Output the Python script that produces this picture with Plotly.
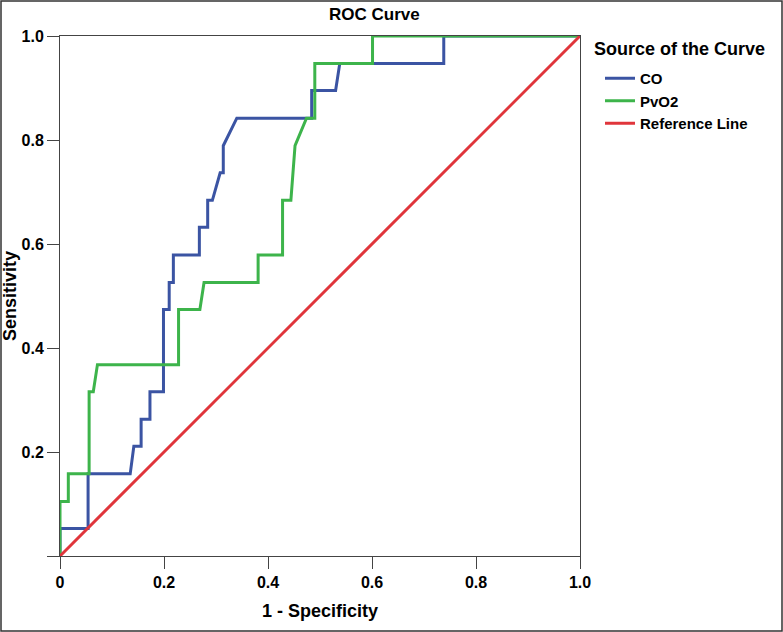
import plotly.graph_objects as go

# ---- data ----
co_fpr = [0, 0, 0.054, 0.054, 0.135, 0.142, 0.156, 0.156, 0.173, 0.173, 0.199, 0.199,
          0.210, 0.210, 0.218, 0.218, 0.268, 0.268, 0.284, 0.284, 0.293, 0.308, 0.314,
          0.314, 0.340, 0.484, 0.484, 0.530, 0.538, 0.738, 0.738, 1.0]
co_tpr = [0, 0.053, 0.053, 0.158, 0.158, 0.211, 0.211, 0.263, 0.263, 0.316, 0.316, 0.474,
          0.474, 0.526, 0.526, 0.579, 0.579, 0.632, 0.632, 0.684, 0.684, 0.737, 0.737,
          0.789, 0.842, 0.842, 0.895, 0.895, 0.947, 0.947, 1.0, 1.0]

pvo2_fpr = [0, 0, 0.016, 0.016, 0.056, 0.056, 0.064, 0.072, 0.228, 0.228, 0.269, 0.277,
            0.381, 0.381, 0.428, 0.428, 0.444, 0.448, 0.452, 0.474, 0.490, 0.490, 0.601,
            0.601, 1.0]
pvo2_tpr = [0, 0.105, 0.105, 0.158, 0.158, 0.316, 0.316, 0.368, 0.368, 0.474, 0.474, 0.526,
            0.526, 0.579, 0.579, 0.684, 0.684, 0.737, 0.789, 0.842, 0.842, 0.947, 0.947,
            1.0, 1.0]

ref_x = [0, 1]
ref_y = [0, 1]

tick_vals = [0, 0.2, 0.4, 0.6, 0.8, 1.0]
x_tick_text = ["0", "0.2", "0.4", "0.6", "0.8", "1.0"]
y_tick_text = ["", "0.2", "0.4", "0.6", "0.8", "1.0"]

series_names = ["CO", "PvO2", "Reference Line"]
colors = ["#3B54A3", "#3DB44B", "#E0353B"]

FONT = "Arial, Liberation Sans, sans-serif"

fig = go.Figure()
fig.add_trace(go.Scatter(x=co_fpr, y=co_tpr, mode="lines", name=series_names[0],
                         line=dict(color=colors[0], width=3)))
fig.add_trace(go.Scatter(x=pvo2_fpr, y=pvo2_tpr, mode="lines", name=series_names[1],
                         line=dict(color=colors[1], width=3)))
fig.add_trace(go.Scatter(x=ref_x, y=ref_y, mode="lines", name=series_names[2],
                         line=dict(color=colors[2], width=3)))

W, H = 783, 632
L, R, T, B = 60, 203, 36, 76
pw, ph = W - L - R, H - T - B


def px_x(p):
    return (p - L) / pw


def px_y(p):
    return (H - B - p) / ph


fig.update_layout(
    width=W, height=H,
    margin=dict(l=L, r=R, t=T, b=B, pad=0, autoexpand=False),
    paper_bgcolor="white", plot_bgcolor="white",
    font=dict(family=FONT, color="black"),
    showlegend=True,
    legend=dict(
        font=dict(size=15, family=FONT, weight="bold"),
        x=px_x(600), xanchor="left",
        y=px_y(62), yanchor="top",
        bgcolor="rgba(0,0,0,0)",
        tracegroupgap=0,
    ),
    xaxis=dict(
        range=[0, 1], tickvals=tick_vals, ticktext=x_tick_text, automargin=False,
        ticks="outside", ticklen=12, tickwidth=1, tickcolor="#444",
        showline=True, linecolor="#444", linewidth=1, mirror=True,
        showgrid=False, zeroline=False,
        tickfont=dict(size=16, family=FONT, weight="bold"),
        title=dict(text="1 - Specificity", font=dict(size=18, family=FONT, weight="bold"), standoff=14),
    ),
    yaxis=dict(
        range=[0, 1], tickvals=tick_vals, ticktext=y_tick_text, automargin=False,
        ticks="outside", ticklen=12, tickwidth=1, tickcolor="#444",
        showline=True, linecolor="#444", linewidth=1, mirror=True,
        showgrid=False, zeroline=False,
        tickfont=dict(size=16, family=FONT, weight="bold"),
        title=dict(text="Sensitivity", font=dict(size=18, family=FONT, weight="bold"), standoff=4),
    ),
    annotations=[
        dict(text="ROC Curve", xref="paper", yref="paper",
             x=px_x(374), y=px_y(15), xanchor="center", yanchor="middle",
             showarrow=False, font=dict(size=17, family=FONT, weight="bold")),
        dict(text="Source of the Curve", xref="paper", yref="paper",
             x=px_x(592), y=px_y(49), xanchor="left", yanchor="middle",
             showarrow=False, font=dict(size=18, family=FONT, weight="bold")),
    ],
    shapes=[dict(
        type="rect", xref="paper", yref="paper",
        x0=px_x(1), x1=px_x(W - 1),
        y0=px_y(H - 1), y1=px_y(1),
        line=dict(color="#333", width=1.5), fillcolor="rgba(0,0,0,0)", layer="above",
    )],
)

fig.write_html("out.html", config={"displayModeBar": False},
               post_script="document.body.style.margin='0px';")
